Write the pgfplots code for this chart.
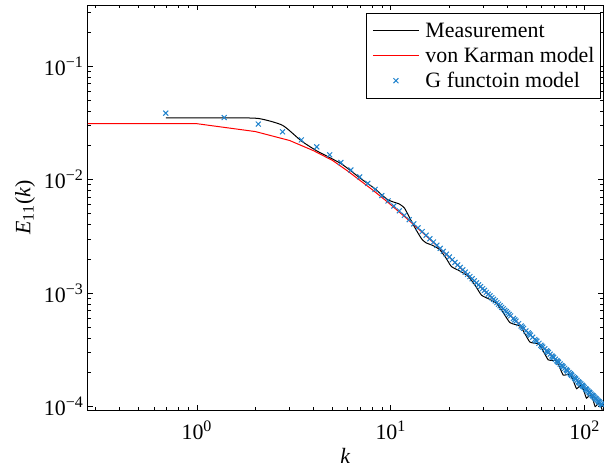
\documentclass[11pt,border=0pt]{standalone}
\usepackage{fontspec}
\setmainfont{Liberation Serif}
\usepackage{pgfplots}
\pgfplotsset{compat=1.18}
\definecolor{mblue}{RGB}{30,130,205}
\pgfplotsset{
  lineleg/.style={legend image code/.code={\draw[##1, draw=#1] (0pt,0pt) -- (23pt,0pt);}},
  markleg/.style={legend image code/.code={\draw[##1] plot[only marks] coordinates {(11.5pt,0pt)}; \path[draw=none] (0pt,0pt) -- (23pt,0pt);}},
}
\begin{document}
\begin{tikzpicture}
\begin{axis}[name=ax, scale only axis, width=257.5pt, height=202.5pt,
  xmode=log, ymode=log, xmin=0.274, xmax=124, ymin=9.35e-5, ymax=0.347,
  xtick={1,10,100},
  xticklabels={10\textsuperscript{0},10\textsuperscript{1},10\textsuperscript{2}},
  ytick={1e-4,1e-3,1e-2,1e-1},
  yticklabels={10\textsuperscript{−4},10\textsuperscript{−3},10\textsuperscript{−2},10\textsuperscript{−1}},
  minor xtick={0.3,0.4,0.5,0.6,0.7,0.8,0.9,2,3,4,5,6,7,8,9,20,30,40,50,60,70,80,90},
  minor ytick={2e-4,3e-4,4e-4,5e-4,6e-4,7e-4,8e-4,9e-4,2e-3,3e-3,4e-3,5e-3,6e-3,7e-3,8e-3,9e-3,2e-2,3e-2,4e-2,5e-2,6e-2,7e-2,8e-2,9e-2,0.2,0.3},
  tick align=inside, major tick length=2.5pt, minor tick length=1.5pt,
  axis line style={line width=0.5pt}, every tick/.style={black, line width=0.5pt},
  xticklabel style={yshift=-1.5pt},
  yticklabel style={xshift=1.8pt},
  xlabel={\textit{k}}, ylabel={\textit{E}\textsubscript{11}(\textit{k})},
  label style={inner sep=0pt},
  xlabel style={at={(axis description cs:0.5,0)}, anchor=north, yshift=-19pt},
  ylabel style={at={(axis description cs:0,0.5)}, anchor=center, yshift=31.5pt},
  legend cell align=left,
  legend style={at={(0.996,0.980)}, anchor=north east,
    inner xsep=3pt, inner ysep=2.35pt,
    nodes={inner sep=0pt, text height=9.5pt, text depth=3pt},
    row sep=0pt, /tikz/every odd column/.append style={column sep=3pt}},
]
\addplot[black, line width=0.5pt, smooth, tension=0.35, lineleg=black]
 table[row sep=\\] {
x y \\
0.69 0.0351 \\ 1.38 0.0352 \\ 2.07 0.0347 \\ 2.76 0.0302 \\ 3.45 0.0220 \\
4.14 0.0180 \\ 4.83 0.0157 \\ 5.52 0.0139 \\ 6.21 0.0120 \\ 6.90 0.0104 \\
7.59 0.00926 \\ 8.28 0.00832 \\ 8.97 0.00735 \\ 9.66 0.00665 \\ 10.35 0.00635 \\
11.04 0.00612 \\ 11.73 0.00565 \\ 12.42 0.00470 \\ 13.11 0.00395 \\ 13.80 0.00338 \\
14.49 0.00297 \\ 15.18 0.00278 \\ 15.87 0.00270 \\ 16.56 0.00262 \\ 17.25 0.00252 \\
17.94 0.00240 \\ 19.2 0.00205 \\ 20.5 0.00172 \\ 22.5 0.00158 \\ 25 0.00141 \\
27.2 0.00117 \\ 29.3 0.000962 \\ 32 0.000890 \\ 35 0.000817 \\ 38 0.000671 \\
41 0.000552 \\ 43.8 0.000530 \\ 46.5 0.000511 \\ 49.2 0.000436 \\ 52 0.000372 \\
55 0.000363 \\ 58 0.000355 \\ 61.3 0.000304 \\ 64.7 0.000259 \\ 67.9 0.000256 \\
71 0.000254 \\ 74.2 0.000221 \\ 77.3 0.000190 \\ 80.6 0.000192 \\ 84 0.000191 \\
87.3 0.000168 \\ 90.6 0.000144 \\ 93.3 0.000151 \\ 96 0.000154 \\ 99 0.000136 \\
101.9 0.0001190 \\ 104.7 0.0001245 \\ 107.5 0.0001269 \\ 110.3 0.0001141 \\ 113 0.0001002 \\
116 0.0001050 \\ 119 0.0001072 \\ 122 0.0000965 \\ 125 0.0000846 \\
};
\addlegendentry{Measurement}
\addplot[red, line width=0.5pt, lineleg=red]
 table[row sep=\\] {
x y \\
0.2 0.0313 \\ 1 0.0312 \\ 2 0.0266 \\ 3 0.0222 \\ 4 0.0180 \\ 5 0.0148 \\ 6 0.0119 \\
7 0.00974 \\ 8 0.00819 \\ 9 0.00697 \\ 10 0.00601 \\ 12 0.004594 \\ 15 0.003268 \\
20 0.002074 \\ 30 0.001075 \\ 40 0.000670 \\ 60 0.0003425 \\ 80 0.0002123 \\
100 0.0001465 \\ 130 0.0000945 \\
};
\addlegendentry{von Karman model}
\addplot[only marks, mark=x, mark size=1.75pt, color=mblue, mark options={line width=0.5pt}, markleg]
 table[row sep=\\] {
x y \\
0.69 0.0387 \\ 1.38 0.03534 \\ 2.07 0.03096 \\ 2.76 0.02649 \\ 3.45 0.02245 \\
4.14 0.0195 \\ 4.83 0.0166 \\ 5.52 0.0142 \\ 6.21 0.0122 \\ 6.90 0.0106 \\
7.59 0.00930 \\ 8.28 0.00822 \\ 8.97 0.007254 \\ 9.66 0.006507 \\ 10.35 0.005871 \\
11.04 0.005326 \\ 11.73 0.004856 \\ 12.42 0.004446 \\ 13.11 0.004088 \\ 13.80 0.003773 \\
14.49 0.003494 \\ 15.18 0.003246 \\ 15.87 0.003025 \\ 16.56 0.002827 \\ 17.25 0.002647 \\
17.94 0.002486 \\ 18.63 0.002340 \\ 19.32 0.002207 \\ 20.01 0.002085 \\ 20.70 0.001974 \\
21.39 0.001872 \\ 22.08 0.001777 \\ 22.77 0.001690 \\ 23.46 0.001610 \\ 24.15 0.001536 \\
24.84 0.001466 \\ 25.53 0.001402 \\ 26.22 0.001342 \\ 26.91 0.001286 \\ 27.6 0.001234 \\
28.29 0.001185 \\ 28.98 0.001144 \\ 29.67 0.001096 \\ 30.36 0.001060 \\ 31.05 0.001017 \\
31.74 0.000981 \\ 32.43 0.000949 \\ 33.12 0.000914 \\ 33.81 0.000884 \\ 34.5 0.000856 \\
35.19 0.000827 \\ 35.88 0.000801 \\ 36.57 0.000776 \\ 37.26 0.000752 \\ 37.95 0.000730 \\
38.64 0.000708 \\ 39.33 0.000688 \\ 40.02 0.000669 \\ 40.71 0.000650 \\ 41.4 0.000632 \\
42.78 0.000599 \\ 43.47 0.000583 \\ 44.16 0.000568 \\ 45.54 0.000540 \\ 46.92 0.000514 \\
47.61 0.000502 \\ 48.3 0.000490 \\ 49.68 0.000465 \\ 51.06 0.000447 \\ 51.75 0.000437 \\
52.44 0.000427 \\ 53.82 0.000410 \\ 55.2 0.000392 \\ 55.89 0.000384 \\ 56.58 0.000377 \\
57.96 0.000362 \\ 59.34 0.000348 \\ 60.03 0.000341 \\ 60.72 0.000335 \\ 62.1 0.000323 \\
63.48 0.000311 \\ 64.17 0.000306 \\ 64.86 0.000300 \\ 66.24 0.000290 \\ 67.62 0.000280 \\
68.31 0.000275 \\ 69 0.000271 \\ 70.38 0.000262 \\ 71.76 0.000254 \\ 72.45 0.000250 \\
73.14 0.000246 \\ 74.52 0.000238 \\ 75.9 0.000231 \\ 76.59 0.000228 \\ 77.28 0.000224 \\
78.66 0.000218 \\ 80.04 0.000212 \\ 80.73 0.000209 \\ 81.42 0.000206 \\ 82.8 0.000200 \\
84.18 0.000195 \\ 84.87 0.000192 \\ 85.56 0.000189 \\ 86.94 0.000184 \\ 88.32 0.000180 \\
89.01 0.000177 \\ 89.7 0.000175 \\ 91.08 0.000171 \\ 92.46 0.000166 \\ 93.15 0.000164 \\
93.84 0.000162 \\ 95.22 0.000159 \\ 96.6 0.000155 \\ 97.29 0.000153 \\ 97.98 0.000151 \\
99.36 0.000148 \\ 100.74 0.000144 \\ 101.43 0.000143 \\ 102.12 0.000141 \\ 103.5 0.000138 \\
104.88 0.000135 \\ 105.57 0.0001335 \\ 106.26 0.000132 \\ 107.64 0.0001293 \\ 109.02 0.0001265 \\
109.71 0.0001252 \\ 110.4 0.0001239 \\ 111.78 0.0001214 \\ 113.16 0.0001189 \\ 113.85 0.0001177 \\
114.54 0.0001166 \\ 115.92 0.0001143 \\ 117.3 0.0001120 \\ 117.99 0.0001109 \\ 118.68 0.0001099 \\
120.06 0.0001078 \\ 121.44 0.0001057 \\ 122.13 0.0001047 \\ 122.82 0.0001038 \\ 124.2 0.0001019 \\
125.58 0.0001000 \\ 126.27 0.0000991 \\
};
\addlegendentry{G functoin model}
\end{axis}
\pgfresetboundingbox
\path ([shift={(-44pt,-29pt)}]ax.south west) rectangle ([shift={(0.5pt,2.5pt)}]ax.north east);
\end{tikzpicture}
\end{document}
